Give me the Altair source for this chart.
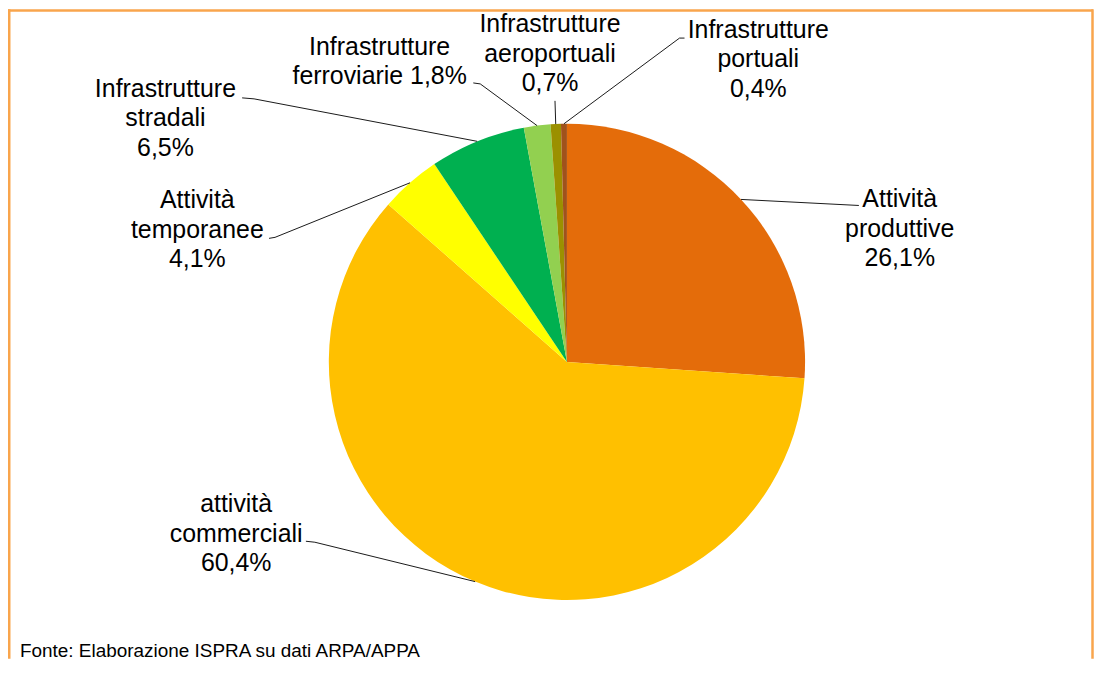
import math
import altair as alt
import pandas as pd

# ---------------- data ----------------
categories = [
    "Attività produttive",
    "attività commerciali",
    "Attività temporanee",
    "Infrastrutture stradali",
    "Infrastrutture ferroviarie",
    "Infrastrutture aeroportuali",
    "Infrastrutture portuali",
]
values = [26.1, 60.4, 4.1, 6.5, 1.8, 0.7, 0.4]
label_lines = [
    ["Attività", "produttive"],
    ["attività", "commerciali"],
    ["Attività", "temporanee"],
    ["Infrastrutture", "stradali"],
    ["Infrastrutture", "ferroviarie"],
    ["Infrastrutture", "aeroportuali"],
    ["Infrastrutture", "portuali"],
]
value_on_same_line = [False, False, False, False, True, False, False]
source_note = "Fonte: Elaborazione ISPRA su dati ARPA/APPA"

# ---------------- style / layout ----------------
colors = ["#E46C0A", "#FFC000", "#FFFF00", "#00B050", "#92D050", "#9B9000", "#A0521C"]
W, H = 1090, 652
OFF = 8  # page margin
CX, CY, R = 569 - OFF, 362 - OFF, 239
FONT = "Liberation Sans"
FS = 25
LH = 29.5
# label layout in page coordinates: centre x, first baseline, leader anchor, knee
label_cx = [903, 237, 198, 166, 381, 552, 761]
label_y0 = [207, 513, 208, 96, 54, 31, 37]
anchor_xy = [(862, 205), (307, 542), (270, 238), (243, 97), (475, 82), (557, 100), (687, 37)]
knee_xy = [None, (316, 543), (276, 237), (255, 98), (482, 83), None, (682, 37)]


def fmt(v):
    return f"{v:.1f}".replace(".", ",") + "%"


pie_df = pd.DataFrame({"cat": categories, "value": values, "idx": list(range(len(values)))})

total = sum(values)
text_rows, leader_rows = [], []
cum = 0.0
for i, (c, v) in enumerate(zip(categories, values)):
    mid = 2 * math.pi * (cum + v / 2) / total
    cum += v
    ex, ey = CX + R * math.sin(mid), CY - R * math.cos(mid)
    pts = [(ex, ey)]
    if knee_xy[i] is not None:
        pts.append((knee_xy[i][0] - OFF, knee_xy[i][1] - OFF))
    pts.append((anchor_xy[i][0] - OFF, anchor_xy[i][1] - OFF))
    for k, (px, py) in enumerate(pts):
        leader_rows.append({"cat": c, "pt": k, "x": px, "y": py})
    lines = list(label_lines[i])
    if value_on_same_line[i]:
        lines[-1] = lines[-1] + " " + fmt(v)
    else:
        lines.append(fmt(v))
    for j, t in enumerate(lines):
        text_rows.append({"x": label_cx[i] - OFF, "y": label_y0[i] - OFF + j * LH, "text": t})

text_df = pd.DataFrame(text_rows)
leader_df = pd.DataFrame(leader_rows)
note_df = pd.DataFrame({"x": [20 - OFF], "y": [658 - OFF], "text": [source_note]})

xs = alt.X("x:Q", scale=alt.Scale(domain=[0, W], range=[0, W], nice=False, zero=False), axis=None)
ys = alt.Y("y:Q", scale=alt.Scale(domain=[0, H], range=[0, H], nice=False, zero=False), axis=None)

pie = alt.Chart(pie_df).mark_arc(outerRadius=R).encode(
    theta=alt.Theta("value:Q", stack=True),
    order=alt.Order("idx:Q"),
    color=alt.Color("cat:N", scale=alt.Scale(domain=categories, range=colors), legend=None),
    x=alt.value(CX),
    y=alt.value(CY),
)

leaders = alt.Chart(leader_df).mark_line(color="#1a1a1a", strokeWidth=1).encode(
    x=xs, y=ys, detail="cat:N", order="pt:Q"
)

labels = alt.Chart(text_df).mark_text(
    font=FONT, fontSize=FS, align="center", baseline="alphabetic", color="#000000"
).encode(x=xs, y=ys, text="text:N")

note = alt.Chart(note_df).mark_text(
    font=FONT, fontSize=19, align="left", baseline="alphabetic", color="#000000"
).encode(x=xs, y=ys, text="text:N")

bdf = pd.DataFrame({"a": [0]})
border_color = "#F9A54C"
top = alt.Chart(bdf).mark_rule(color=border_color, strokeWidth=2.5).encode(
    x=alt.value(0), x2=alt.value(W - 1), y=alt.value(1.25)
)
left = alt.Chart(bdf).mark_rule(color=border_color, strokeWidth=2.5).encode(
    x=alt.value(1.25), y=alt.value(0), y2=alt.value(H)
)
right = alt.Chart(bdf).mark_rule(color=border_color, strokeWidth=2.5).encode(
    x=alt.value(W - 1.5), y=alt.value(0), y2=alt.value(H)
)

chart = (
    alt.layer(pie, leaders, labels, note, top, left, right)
    .properties(width=W, height=H, padding=0, autosize=alt.AutoSizeParams(type="none"), background="white")
    .configure_view(stroke=None)
)

chart.save("out.html", embed_options={"renderer": "svg", "actions": False})
